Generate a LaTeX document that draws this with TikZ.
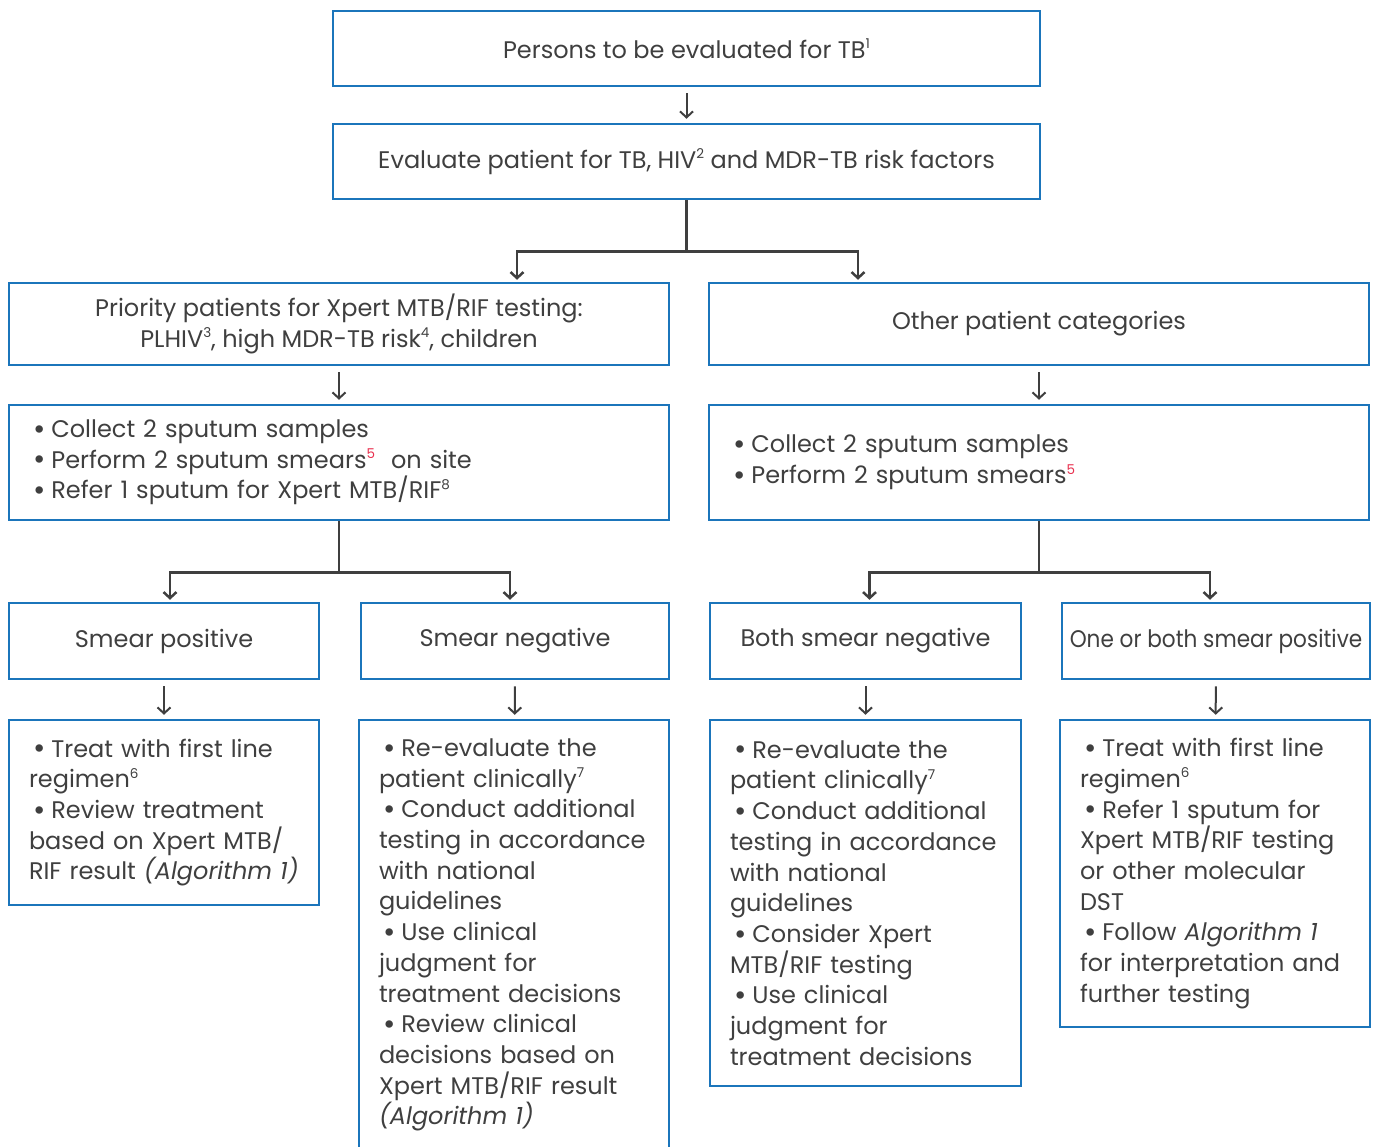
\documentclass[tikz,border=0pt]{standalone}
\usepackage{fontspec}
\setmainfont{Poppins}
\usepackage{xcolor}
\usepackage{graphicx}
\usetikzlibrary{arrows.meta}
\definecolor{boxblue}{HTML}{1B75BB}
\definecolor{txtgray}{HTML}{3F3F3F}
\definecolor{fnred}{HTML}{E8314F}
\newcommand{\fn}[1]{\raisebox{0.4em}{\fontsize{13.5}{13.5}\selectfont #1}}
\newcommand{\bul}{\hspace{4pt}\raisebox{-0.07em}{\scalebox{1.25}{\textbullet}}\hspace{6pt}}

\tikzset{
  box/.style={draw=boxblue, line width=2.5pt, text=txtgray,
    font=\fontsize{24}{30.7}\selectfont, inner sep=0pt},
  listbox/.style={box, align=left, inner xsep=20pt},
  arr/.style={draw=txtgray, line width=2pt,
    -{Straight Barb[length=6pt,width=13pt]}, shorten <=6pt, shorten >=4pt},
  branch/.style={draw=txtgray, line width=2.5pt},
  brarr/.style={branch, -{Straight Barb[length=6pt,width=13pt]}, shorten >=2pt},
}

\begin{document}
\begin{tikzpicture}[x=1pt, y=-1pt]
\clip (0,0) rectangle (1378,1146);

% top of the chart
\node[box, minimum width=707pt, minimum height=75pt] (eval) at (686.5,48.5)
  {Persons to be evaluated for TB\fn{1}};
\node[box, minimum width=707pt, minimum height=75pt] (risk) at (686.5,161.5)
  {Evaluate patient for TB, HIV\fn{2} and MDR-TB risk factors};

% patient groups
\node[box, minimum width=660pt, minimum height=82pt, align=center] (prio) at (339,324)
  {Priority patients for Xpert MTB/RIF testing:\\PLHIV\fn{3}, high MDR-TB risk\fn{4}, children};
\node[box, minimum width=660pt, minimum height=82pt] (other) at (1039,324)
  {Other patient categories};

\node[listbox, text width=620pt, minimum height=115pt] (priotest) at (339,462.5)
  {\bul Collect 2 sputum samples\\
   \bul Perform 2 sputum smears\fn{\color{fnred}5}\ \ on site\\
   \bul Refer 1 sputum for Xpert MTB/RIF\fn{8}};
\node[listbox, text width=620pt, minimum height=115pt] (othtest) at (1039,462.5)
  {\bul Collect 2 sputum samples\\
   \bul Perform 2 sputum smears\fn{\color{fnred}5}};

% smear results
\node[box, minimum width=310pt, minimum height=76pt] (smpos) at (164,641) {Smear positive};
\node[box, minimum width=308pt, minimum height=76pt] (smneg) at (515,641) {Smear negative};
\node[box, minimum width=311pt, minimum height=76pt] (bothneg) at (865.5,641) {Both smear negative};
\node[box, minimum width=308pt, minimum height=76pt] (onepos) at (1216,641)
  {\scalebox{0.9}[1]{One or both smear positive}};

% what to do next
\node[listbox, text width=270pt, minimum height=185pt] (trtpos) at (164,812.5)
  {\bul Treat with first line\\
   regimen\fn{6}\\
   \bul Review treatment\\
   based on Xpert MTB/\\
   RIF result \textit{(Algorithm 1)}};
\node[listbox, text width=270pt, minimum height=430pt] (reneg) at (514,935)
  {\bul Re-evaluate the\\
   patient clinically\fn{7}\\
   \bul Conduct additional\\
   testing in accordance\\
   with national\\
   guidelines\\
   \bul Use clinical\\
   judgment for\\
   treatment decisions\\
   \bul Review clinical\\
   decisions based on\\
   Xpert MTB/RIF result\\
   \textit{(Algorithm 1)}};
\node[listbox, text width=271pt, minimum height=366pt] (reboth) at (865.5,903)
  {\bul Re-evaluate the\\
   patient clinically\fn{7}\\
   \bul Conduct additional\\
   testing in accordance\\
   with national\\
   guidelines\\
   \bul Consider Xpert\\
   MTB/RIF testing\\
   \bul Use clinical\\
   judgment for\\
   treatment decisions};
\node[listbox, text width=270pt, minimum height=307pt] (trtone) at (1215,873.5)
  {\bul Treat with first line\\
   regimen\fn{6}\\
   \bul Refer 1 sputum for\\
   Xpert MTB/RIF testing\\
   or other molecular\\
   DST\\
   \bul Follow \textit{Algorithm 1}\\
   for interpretation and\\
   further testing};

% connectors
\draw[arr] (eval) -- (risk);
\coordinate (split1) at ([yshift=-51pt]risk.south);
\draw[branch] (risk.south) -- (split1);
\draw[brarr] (split1) -| ([xshift=178pt]prio.north);
\draw[brarr] (split1) -| ([xshift=-181pt]other.north);

\draw[arr] (prio) -- (priotest);
\draw[arr] (other) -- (othtest);

\coordinate (split2) at ([yshift=-51pt]priotest.south);
\draw[branch] (priotest.south) -- (split2);
\draw[brarr] (split2) -| ([xshift=6pt]smpos.north);
\draw[brarr] (split2) -| ([xshift=-5pt]smneg.north);

\coordinate (split3) at ([yshift=-51pt]othtest.south);
\draw[branch] (othtest.south) -- (split3);
\draw[brarr] (split3) -| ([xshift=4pt]bothneg.north);
\draw[brarr] (split3) -| ([xshift=-6pt]onepos.north);

\draw[arr] (smpos) -- (trtpos);
\draw[arr] (smneg) -- (reneg);
\draw[arr] (bothneg) -- (reboth);
\draw[arr] (onepos) -- (trtone);
\end{tikzpicture}
\end{document}
